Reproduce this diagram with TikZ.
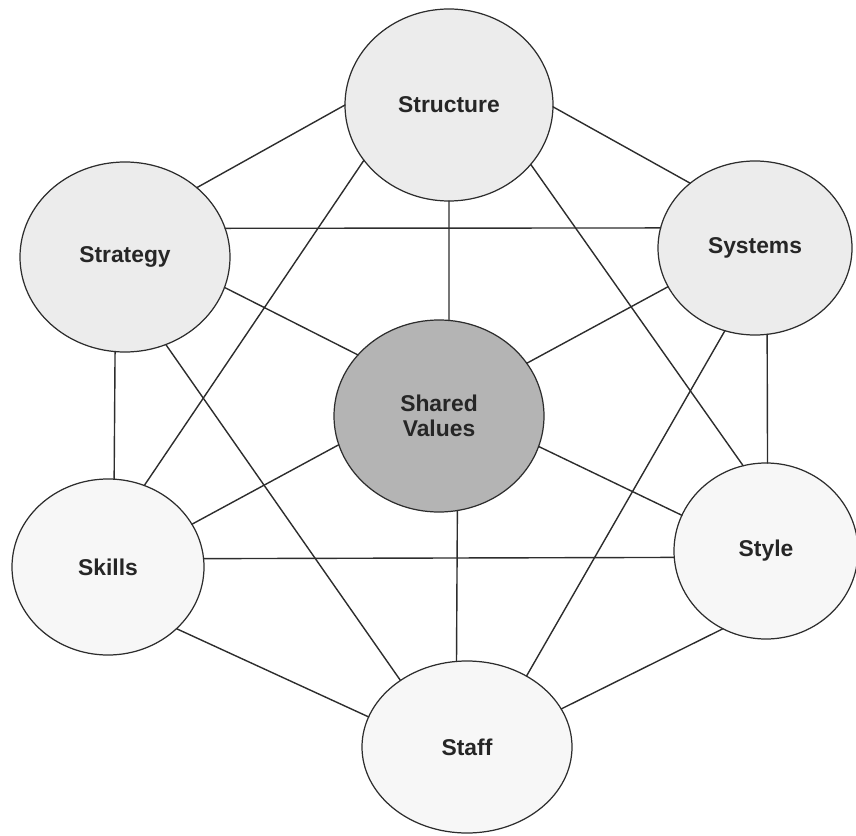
\documentclass[tikz,border=0pt]{standalone}
\usepackage{fontspec}
\setmainfont{Liberation Sans}
\usetikzlibrary{shapes.geometric}

\definecolor{topfill}{RGB}{236,236,236}
\definecolor{lowfill}{RGB}{247,247,247}
\definecolor{corefill}{RGB}{180,180,180}
\definecolor{edgegray}{RGB}{45,45,45}

\begin{document}
\begin{tikzpicture}[line join=round, line cap=round,
    sfactor/.style={ellipse, draw=edgegray, line width=0.7pt, inner sep=0pt, outer sep=0pt,
      align=center, text=black!85, font=\fontsize{13}{14}\selectfont\bfseries},
    link/.style={draw=edgegray, line width=0.8pt}]
    \useasboundingbox (0,0) rectangle (17.12,-16.72);
    % the seven elements
    \node[sfactor, fill=topfill, minimum width=4.16cm, minimum height=3.84cm] (struct) at (8.98,-2.10) {Structure};
    \node[sfactor, fill=topfill, minimum width=4.20cm, minimum height=3.80cm] (strat) at (2.50,-5.14) {Strategy};
    \node[sfactor, fill=topfill, minimum width=3.88cm, minimum height=3.48cm] (sys) at (15.10,-4.96) {Systems};
    \node[sfactor, fill=corefill, minimum width=4.20cm, minimum height=3.84cm] (shared) at (8.78,-8.32) {Shared\\Values};
    \node[sfactor, fill=lowfill, minimum width=3.84cm, minimum height=3.52cm] (skills) at (2.16,-11.34) {Skills};
    \node[sfactor, fill=lowfill, minimum width=3.68cm, minimum height=3.52cm] (style) at (15.32,-11.02) {Style};
    \node[sfactor, fill=lowfill, minimum width=4.20cm, minimum height=3.44cm] (staff) at (9.34,-14.94) {Staff};
    % links
    \draw[link] (struct.180) -- (strat.44);
    \draw[link] (struct.359) -- (sys.135);
    \draw[link] (strat.16) -- (sys.168);
    \draw[link] (struct.213) -- (skills.66);
    \draw[link] (struct.324) -- (style.105);
    \draw[link] (struct.270) -- (shared.84);
    \draw[link] (strat.343) -- (shared.143);
    \draw[link] (sys.204) -- (shared.31);
    \draw[link] (strat.264) -- (skills.86);
    \draw[link] (strat.295) -- (staff.135);
    \draw[link] (sys.278) -- (style.89);
    \draw[link] (sys.250) -- (staff.50);
    \draw[link] (shared.196) -- (skills.27);
    \draw[link] (shared.343) -- (style.157);
    \draw[link] (shared.281) -- (staff.97);
    \draw[link] (skills.5) -- (style.184);
    \draw[link] (skills.318) -- (staff.163);
    \draw[link] (style.241) -- (staff.22);
\end{tikzpicture}
\end{document}
